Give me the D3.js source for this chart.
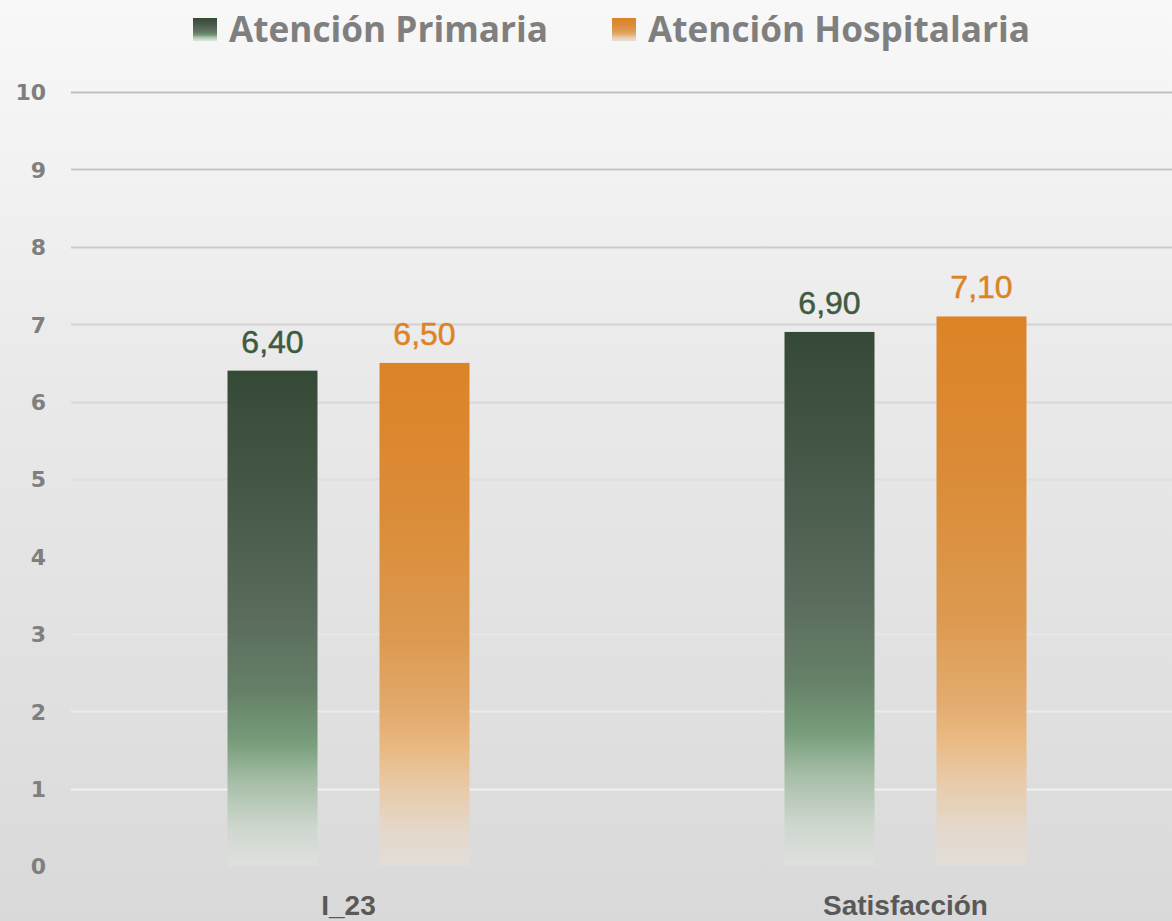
<!DOCTYPE html>
<html>
<head>
<meta charset="utf-8">
<script src="https://cdn.jsdelivr.net/npm/d3@7/dist/d3.min.js"></script>
<style>
  html, body { margin: 0; padding: 0; background: #eee; }
  svg { display: block; }
</style>
</head>
<body>
<svg id="chart" width="1172" height="921"></svg>
<script>
// Chart data
const categories = ["I_23", "Satisfacción"];
const seriesNames = ["Atención Primaria", "Atención Hospitalaria"];
const primaria = [6.40, 6.90];
const hospitalaria = [6.50, 7.10];
const yTicks = [0, 1, 2, 3, 4, 5, 6, 7, 8, 9, 10];

const W = 1172, H = 921;
const svg = d3.select("#chart");
const defs = svg.append("defs");

// Background: light grey fading darker toward the bottom
const bg = defs.append("linearGradient").attr("id", "bg")
  .attr("x1", 0).attr("y1", 0).attr("x2", 0).attr("y2", 1);
bg.append("stop").attr("offset", 0).attr("stop-color", "#f8f8f8");
bg.append("stop").attr("offset", 0.45).attr("stop-color", "#e8e8e8");
bg.append("stop").attr("offset", 1).attr("stop-color", "#d9d9d9");
svg.append("rect").attr("width", W).attr("height", H).attr("fill", "url(#bg)");

// Bar fills: strong colour at the top, washing out near the base
const gradStops = {
  green: [[0, "#354a36"], [0.25, "#465847"], [0.5, "#5b6c5d"], [0.65, "#668068"],
          [0.75, "#779d7a"], [0.83, "#a6bea7"], [0.92, "#cdd6cd"], [1, "#dfe0de"]],
  orange: [[0, "#dc8326"], [0.3, "#db8c38"], [0.55, "#dc9a50"], [0.7, "#e3ab6e"],
           [0.77, "#e9ba83"], [0.85, "#e8cbab"], [0.93, "#e4d8ca"], [1, "#e2ddd8"]]
};
Object.entries(gradStops).forEach(([name, stops]) => {
  const g = defs.append("linearGradient").attr("id", "grad-" + name)
    .attr("x1", 0).attr("y1", 0).attr("x2", 0).attr("y2", 1);
  stops.forEach(([o, c]) => g.append("stop").attr("offset", o).attr("stop-color", c));
});

// Scales
const y = d3.scaleLinear().domain([0, 10]).range([866, 92]);
const x0 = d3.scaleBand().domain(categories).range([70, 1184]);
const groupW = 242;
const x1 = d3.scaleBand().domain(seriesNames).range([0, groupW])
  .paddingInner(62 / 152).paddingOuter(0);

// Gridlines: darker grey up top, almost white near the base
const gridColor = d3.scaleLinear().domain([1, 5, 10]).range(["#f1f1f1", "#dedede", "#bfbfbf"]);
svg.append("g").selectAll("line")
  .data(yTicks.filter(t => t > 0))
  .join("line")
  .attr("x1", 71).attr("x2", W)
  .attr("y1", d => Math.round(y(d)) + 0.5).attr("y2", d => Math.round(y(d)) + 0.5)
  .attr("stroke", d => gridColor(d))
  .attr("stroke-width", 2);

// Y axis labels
const yAxis = d3.axisLeft(y).tickValues(yTicks).tickSize(0).tickPadding(0);
const yg = svg.append("g").attr("transform", "translate(46,0)").call(yAxis);
yg.select(".domain").remove();
yg.selectAll("text")
  .attr("fill", "#7f7f7f")
  .style("font-family", "'DejaVu Sans', sans-serif")
  .style("font-weight", "bold")
  .style("font-size", "22px")
  .attr("dy", "0.36em");

// Bars
const rows = categories.map((c, i) => ({
  cat: c,
  vals: [
    { s: seriesNames[0], v: primaria[i], grad: "url(#grad-green)", color: "#3e5a40" },
    { s: seriesNames[1], v: hospitalaria[i], grad: "url(#grad-orange)", color: "#dc8326" }
  ]
}));

const groups = svg.append("g").selectAll("g")
  .data(rows)
  .join("g")
  .attr("transform", d => `translate(${x0(d.cat) + x0.bandwidth() / 2 - groupW / 2},0)`);

groups.selectAll("rect")
  .data(d => d.vals)
  .join("rect")
  .attr("x", d => x1(d.s))
  .attr("width", x1.bandwidth())
  .attr("y", d => y(d.v))
  .attr("height", d => y(0) - y(d.v))
  .attr("fill", d => d.grad);

// Value labels
const fmt = v => v.toFixed(2).replace(".", ",");
groups.selectAll("text.val")
  .data(d => d.vals)
  .join("text")
  .attr("class", "val")
  .attr("x", d => x1(d.s) + x1.bandwidth() / 2)
  .attr("y", d => y(d.v) - 18)
  .attr("text-anchor", "middle")
  .attr("fill", d => d.color)
  .attr("stroke", d => d.color)
  .attr("stroke-width", 0.5)
  .style("font-family", "'Liberation Sans', Arial, sans-serif")
  .style("font-size", "32px")
  .text(d => fmt(d.v));

// Category labels
svg.append("g").selectAll("text")
  .data(categories)
  .join("text")
  .attr("x", d => x0(d) + x0.bandwidth() / 2)
  .attr("y", 915)
  .attr("text-anchor", "middle")
  .attr("fill", "#595959")
  .style("font-family", "'Liberation Sans', Arial, sans-serif")
  .style("font-weight", "bold")
  .style("font-size", "28px")
  .text(d => d);

// Legend
const legendItems = [
  { name: seriesNames[0], grad: "url(#grad-green)", x: 193 },
  { name: seriesNames[1], grad: "url(#grad-orange)", x: 612 }
];
const lg = svg.append("g").selectAll("g")
  .data(legendItems)
  .join("g")
  .attr("transform", d => `translate(${d.x},0)`);
lg.append("rect")
  .attr("x", 0).attr("y", 18).attr("width", 24).attr("height", 23)
  .attr("fill", d => d.grad);
lg.append("text")
  .attr("x", 36).attr("y", 42)
  .attr("fill", "#7f7f7f")
  .style("font-family", "'Open Sans', sans-serif")
  .style("font-weight", "bold")
  .style("font-size", "35.2px")
  .text(d => d.name);
</script>
</body>
</html>
